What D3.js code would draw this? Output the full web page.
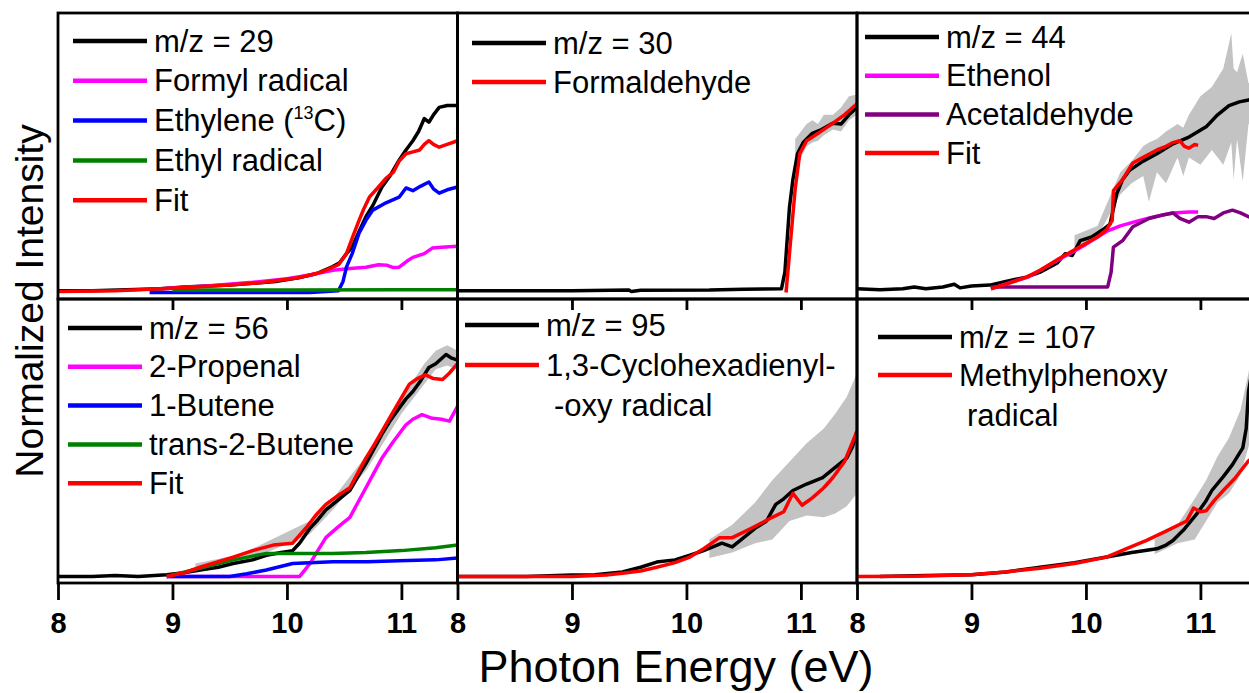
<!DOCTYPE html>
<html>
<head>
<meta charset="utf-8">
<script src="https://cdn.jsdelivr.net/npm/d3@7"></script>
<style>
  body { margin: 0; background: #fff; }
  svg { display: block; font-family: "Liberation Sans", Arial, sans-serif; }
</style>
</head>
<body>
<div id="chart"></div>
<script>
// ---- data (photon energy in eV, normalized intensity) ----
var energyTicks = [8, 9, 10, 11];

// m/z = 29
var mz29 = [[8.0,0.0],[8.3,0.0],[8.6,0.005],[8.9,0.01],[9.1,0.02],[9.3,0.025],[9.5,0.03],[9.7,0.04],[9.9,0.05],[10.1,0.07],[10.25,0.09],[10.4,0.13],[10.46,0.15],[10.52,0.2],[10.57,0.235],[10.63,0.32],[10.69,0.40],[10.75,0.46],[10.83,0.56],[10.9,0.62],[10.98,0.705],[11.04,0.76],[11.1,0.81],[11.15,0.86],[11.2,0.93],[11.24,0.91],[11.28,0.95],[11.33,0.99],[11.4,1.0],[11.49,1.0]];
var formyl29 = [[8.9,0.01],[9.3,0.025],[9.7,0.045],[10.0,0.065],[10.2,0.085],[10.4,0.11],[10.55,0.12],[10.69,0.127],[10.8,0.14],[10.87,0.138],[10.93,0.125],[10.98,0.127],[11.05,0.16],[11.1,0.18],[11.2,0.2],[11.27,0.23],[11.35,0.235],[11.49,0.24]];
var ethylene29 = [[8.8,-0.01],[9.5,-0.01],[10.2,-0.01],[10.45,0.0],[10.49,0.05],[10.52,0.127],[10.57,0.2],[10.63,0.31],[10.69,0.38],[10.75,0.435],[10.85,0.47],[10.98,0.505],[11.04,0.555],[11.1,0.54],[11.17,0.565],[11.24,0.587],[11.28,0.55],[11.33,0.527],[11.4,0.545],[11.49,0.56]];
var ethyl29 = [[9.0,0.003],[10.0,0.003],[11.0,0.005],[11.49,0.005]];
var fit29 = [[8.0,-0.005],[8.5,0.0],[8.9,0.01],[9.2,0.02],[9.5,0.03],[9.8,0.045],[10.1,0.07],[10.3,0.1],[10.45,0.14],[10.52,0.2],[10.58,0.3],[10.63,0.38],[10.67,0.44],[10.72,0.505],[10.8,0.56],[10.87,0.61],[10.93,0.64],[10.98,0.7],[11.04,0.74],[11.1,0.75],[11.16,0.76],[11.2,0.79],[11.24,0.81],[11.28,0.79],[11.33,0.775],[11.4,0.79],[11.49,0.81]];

// m/z = 30
var mz30 = [[8.0,0.0],[9.0,0.0],[9.5,0.003],[9.52,-0.005],[9.6,0.002],[10.2,0.003],[10.5,0.008],[10.83,0.01],[10.86,0.1],[10.9,0.45],[10.93,0.6],[10.97,0.74],[11.02,0.8],[11.1,0.85],[11.18,0.87],[11.28,0.905],[11.35,0.9],[11.42,0.95],[11.49,0.99]];
var formaldehyde30 = [[10.87,-0.01],[10.9,0.2],[10.95,0.55],[10.99,0.74],[11.05,0.81],[11.15,0.85],[11.28,0.905],[11.38,0.95],[11.49,1.01]];
var band30 = [[10.95,0.65,0.82],[11.0,0.72,0.86],[11.05,0.78,0.9],[11.1,0.8,0.92],[11.15,0.81,0.9],[11.2,0.84,0.95],[11.28,0.87,0.95],[11.35,0.86,0.99],[11.42,0.92,1.05],[11.49,0.95,1.06]];

// m/z = 44
var mz44 = [[8.0,0.01],[8.2,0.005],[8.4,0.01],[8.5,0.02],[8.6,0.01],[8.75,0.02],[8.85,0.035],[8.9,0.015],[9.0,0.025],[9.16,0.03],[9.3,0.05],[9.48,0.073],[9.6,0.1],[9.75,0.15],[9.82,0.2],[9.88,0.19],[9.95,0.27],[10.05,0.29],[10.15,0.33],[10.21,0.36],[10.27,0.525],[10.32,0.6],[10.38,0.65],[10.5,0.7],[10.62,0.74],[10.75,0.79],[10.9,0.83],[11.05,0.885],[11.15,0.95],[11.25,1.0],[11.34,1.02],[11.42,1.03],[11.49,1.04]];
var ethenol44 = [[9.17,0.01],[9.5,0.075],[9.8,0.18],[10.0,0.25],[10.18,0.32],[10.3,0.35],[10.47,0.38],[10.6,0.4],[10.76,0.42],[10.9,0.425],[10.98,0.425]];
var acetaldehyde44 = [[9.17,0.02],[10.19,0.02],[10.22,0.1],[10.24,0.235],[10.32,0.27],[10.41,0.345],[10.55,0.39],[10.68,0.41],[10.76,0.42],[10.82,0.39],[10.9,0.37],[10.98,0.4],[11.05,0.4],[11.12,0.39],[11.2,0.42],[11.28,0.435],[11.35,0.42],[11.42,0.4],[11.49,0.38]];
var fit44 = [[9.17,0.01],[9.3,0.035],[9.48,0.073],[9.6,0.11],[9.77,0.175],[9.97,0.245],[10.1,0.29],[10.18,0.33],[10.23,0.38],[10.24,0.54],[10.32,0.6],[10.41,0.69],[10.5,0.72],[10.62,0.76],[10.7,0.78],[10.76,0.8],[10.82,0.81],[10.86,0.78],[10.9,0.77],[10.95,0.79],[10.98,0.785]];
var band44 = [[9.9,0.23,0.3],[10.1,0.29,0.35],[10.3,0.52,0.64],[10.4,0.58,0.7],[10.5,0.62,0.78],[10.55,0.48,0.8],[10.62,0.64,0.82],[10.7,0.58,0.86],[10.8,0.72,0.9],[10.85,0.62,0.88],[10.9,0.72,0.95],[11.0,0.68,1.05],[11.1,0.76,1.1],[11.2,0.68,1.2],[11.27,0.8,1.39],[11.29,0.6,1.2],[11.32,0.82,1.18],[11.37,0.59,1.28],[11.42,0.9,1.12],[11.49,0.88,1.18]];

// m/z = 56
var mz56 = [[8.0,0.0],[8.3,0.0],[8.5,0.005],[8.7,0.0],[8.95,0.01],[9.1,0.02],[9.24,0.035],[9.4,0.05],[9.53,0.07],[9.7,0.09],[9.82,0.115],[9.95,0.13],[10.05,0.14],[10.11,0.18],[10.2,0.26],[10.26,0.3],[10.34,0.36],[10.4,0.39],[10.48,0.43],[10.55,0.465],[10.62,0.54],[10.69,0.61],[10.76,0.69],[10.83,0.77],[10.9,0.84],[10.98,0.91],[11.04,0.96],[11.1,1.0],[11.17,1.06],[11.24,1.13],[11.3,1.15],[11.39,1.2],[11.44,1.18],[11.49,1.17]];
var propenal56 = [[8.95,0.0],[10.11,0.0],[10.15,0.03],[10.2,0.07],[10.27,0.14],[10.34,0.21],[10.45,0.27],[10.55,0.32],[10.62,0.4],[10.69,0.48],[10.76,0.56],[10.83,0.64],[10.93,0.73],[11.04,0.82],[11.1,0.85],[11.18,0.875],[11.27,0.855],[11.35,0.85],[11.42,0.84],[11.49,0.92]];
var butene56 = [[8.95,0.0],[9.5,0.0],[9.65,0.015],[9.82,0.035],[10.05,0.07],[10.2,0.075],[10.4,0.08],[10.7,0.08],[10.98,0.085],[11.3,0.09],[11.49,0.1]];
var trans2butene56 = [[8.95,0.0],[9.24,0.045],[9.53,0.09],[9.82,0.125],[10.11,0.125],[10.4,0.125],[10.69,0.13],[11.0,0.14],[11.3,0.155],[11.49,0.17]];
var fit56 = [[8.95,0.0],[9.1,0.02],[9.24,0.05],[9.4,0.08],[9.53,0.105],[9.7,0.14],[9.88,0.17],[10.05,0.18],[10.17,0.265],[10.25,0.33],[10.34,0.39],[10.45,0.44],[10.55,0.48],[10.62,0.56],[10.69,0.64],[10.76,0.71],[10.83,0.785],[10.9,0.86],[10.98,0.945],[11.07,1.04],[11.14,1.07],[11.21,1.09],[11.28,1.07],[11.36,1.065],[11.42,1.1],[11.49,1.15]];
var band56 = [[9.2,0.02,0.07],[9.6,0.07,0.12],[10.2,0.23,0.3],[10.4,0.36,0.42],[10.7,0.58,0.66],[11.0,0.88,0.96],[11.2,1.04,1.15],[11.3,1.12,1.22],[11.4,1.14,1.25],[11.49,1.12,1.22]];

// m/z = 95
var mz95 = [[8.0,0.0],[8.6,0.0],[9.0,0.008],[9.2,0.01],[9.44,0.025],[9.6,0.05],[9.74,0.078],[9.9,0.09],[10.03,0.115],[10.15,0.14],[10.31,0.18],[10.4,0.16],[10.5,0.21],[10.61,0.265],[10.7,0.3],[10.78,0.39],[10.85,0.42],[10.93,0.465],[11.05,0.5],[11.19,0.535],[11.3,0.59],[11.4,0.64],[11.45,0.7],[11.49,0.785]];
var cyclohexadienyloxy95 = [[8.0,0.0],[9.0,0.0],[9.3,0.008],[9.44,0.018],[9.6,0.03],[9.74,0.05],[9.9,0.075],[10.03,0.105],[10.15,0.15],[10.29,0.21],[10.4,0.21],[10.5,0.24],[10.58,0.265],[10.75,0.32],[10.85,0.35],[10.93,0.45],[11.01,0.385],[11.1,0.425],[11.2,0.48],[11.28,0.535],[11.38,0.62],[11.49,0.785]];
var band95 = [[10.2,0.1,0.2],[10.4,0.13,0.28],[10.6,0.18,0.4],[10.75,0.2,0.52],[10.9,0.3,0.62],[11.05,0.33,0.72],[11.2,0.32,0.8],[11.3,0.34,0.88],[11.4,0.38,0.97],[11.49,0.45,1.1]];

// m/z = 107
var mz107 = [[8.2,0.0],[8.6,0.005],[9.0,0.01],[9.3,0.025],[9.6,0.05],[9.9,0.075],[10.18,0.105],[10.4,0.13],[10.62,0.15],[10.7,0.17],[10.76,0.195],[10.85,0.25],[10.97,0.34],[11.05,0.41],[11.1,0.465],[11.2,0.54],[11.28,0.605],[11.37,0.695],[11.4,0.8],[11.42,1.0],[11.49,1.25]];
var methylphenoxy107 = [[8.0,0.0],[8.5,0.002],[9.0,0.01],[9.3,0.025],[9.6,0.045],[9.9,0.07],[10.18,0.105],[10.35,0.15],[10.53,0.195],[10.7,0.245],[10.88,0.3],[10.94,0.37],[11.0,0.35],[11.05,0.355],[11.12,0.41],[11.2,0.465],[11.3,0.53],[11.42,0.625],[11.49,0.66]];
var band107 = [[10.6,0.12,0.2],[10.8,0.18,0.28],[10.95,0.2,0.42],[11.05,0.3,0.52],[11.15,0.4,0.65],[11.25,0.45,0.75],[11.35,0.55,0.9],[11.42,0.7,1.1],[11.49,0.9,1.4]];

// ---- layout ----
var width = 1249, height = 693;
var colLeft = [58, 457.5, 857];
var panelW = 399.5;
var rowTop = [13, 299];
var rowH = [286, 284];
var rowYDomain = [[-0.045, 1.5], [-0.035, 1.5]];
var lineW = 3.5;
var legendLen = 74;
var fontStack = '"Liberation Sans", Arial, sans-serif';

var BLACK = "#000000", MAGENTA = "#ff00ff", BLUE = "#0000ff", GREEN = "#008000", RED = "#ff0000", PURPLE = "#800080";

var panels = [
  {row: 0, col: 0, band: null,
   series: [[mz29, BLACK], [formyl29, MAGENTA], [ethylene29, BLUE], [ethyl29, GREEN], [fit29, RED]],
   legend: {x: 73, y: 41, dy: 39.8, items: [
     {c: BLACK, t: ["m/z = 29"]}, {c: MAGENTA, t: ["Formyl radical"]}, {c: BLUE, t: ["Ethylene (", "13", "C)"], sup: true},
     {c: GREEN, t: ["Ethyl radical"]}, {c: RED, t: ["Fit"]}]}},
  {row: 0, col: 1, band: band30,
   series: [[mz30, BLACK], [formaldehyde30, RED]],
   legend: {x: 472, y: 43, dy: 39, items: [{c: BLACK, t: ["m/z = 30"]}, {c: RED, t: ["Formaldehyde"]}]}},
  {row: 0, col: 2, band: band44,
   series: [[mz44, BLACK], [ethenol44, MAGENTA], [acetaldehyde44, PURPLE], [fit44, RED]],
   legend: {x: 865, y: 37, dy: 38.7, items: [
     {c: BLACK, t: ["m/z = 44"]}, {c: MAGENTA, t: ["Ethenol"]}, {c: PURPLE, t: ["Acetaldehyde"]}, {c: RED, t: ["Fit"]}]}},
  {row: 1, col: 0, band: band56,
   series: [[mz56, BLACK], [propenal56, MAGENTA], [butene56, BLUE], [trans2butene56, GREEN], [fit56, RED]],
   legend: {x: 68, y: 328, dy: 38.8, items: [
     {c: BLACK, t: ["m/z = 56"]}, {c: MAGENTA, t: ["2-Propenal"]}, {c: BLUE, t: ["1-Butene"]},
     {c: GREEN, t: ["trans-2-Butene"]}, {c: RED, t: ["Fit"]}]}},
  {row: 1, col: 1, band: band95,
   series: [[mz95, BLACK], [cyclohexadienyloxy95, RED]],
   legend: {x: 465, y: 325, dy: 40, items: [
     {c: BLACK, t: ["m/z = 95"]}, {c: RED, t: ["1,3-Cyclohexadienyl-"], wrap: "-oxy radical", wrapDx: 8}]}},
  {row: 1, col: 2, band: band107,
   series: [[mz107, BLACK], [methylphenoxy107, RED]],
   legend: {x: 878, y: 337, dy: 38, items: [
     {c: BLACK, t: ["m/z = 107"]}, {c: RED, t: ["Methylphenoxy"], wrap: "radical", wrapDx: 8}]}}
];

var svg = d3.select("#chart").append("svg")
  .attr("width", width).attr("height", height);
svg.append("rect").attr("width", width).attr("height", height).attr("fill", "#fff");

panels.forEach(function(p, i) {
  var x0 = colLeft[p.col], y0 = rowTop[p.row], h = rowH[p.row];
  var x = d3.scaleLinear().domain([8, 11.49]).range([x0, x0 + panelW]);
  var y = d3.scaleLinear().domain(rowYDomain[p.row]).range([y0 + h, y0]);

  svg.append("clipPath").attr("id", "clip" + i)
    .append("rect").attr("x", x0).attr("y", y0).attr("width", panelW).attr("height", h);
  var g = svg.append("g").attr("clip-path", "url(#clip" + i + ")");

  if (p.band) {
    var area = d3.area().x(function(d) { return x(d[0]); })
      .y0(function(d) { return y(d[1]); }).y1(function(d) { return y(d[2]); });
    g.append("path").datum(p.band).attr("d", area).attr("fill", "#c3c3c3");
  }

  var line = d3.line().x(function(d) { return x(d[0]); }).y(function(d) { return y(d[1]); });
  p.series.forEach(function(s) {
    g.append("path").datum(s[0]).attr("d", line)
      .attr("fill", "none").attr("stroke", s[1])
      .attr("stroke-width", lineW).attr("stroke-linejoin", "round");
  });

  // frame
  svg.append("rect").attr("x", x0).attr("y", y0).attr("width", panelW).attr("height", h)
    .attr("fill", "none").attr("stroke", "#000").attr("stroke-width", 2.8);

  // x axis
  var axis = svg.append("g").attr("transform", "translate(0," + (y0 + h) + ")");
  if (p.row === 1) {
    axis.call(d3.axisBottom(x).tickValues(energyTicks).tickSize(17).tickPadding(12).tickFormat(d3.format("d")));
  } else {
    axis.call(d3.axisBottom(x).tickValues(energyTicks.slice(1)).tickSize(11).tickFormat(""));
  }
  axis.select(".domain").remove();
  axis.selectAll("line").attr("stroke", "#000").attr("stroke-width", 2.8);
  axis.selectAll("text").attr("font-family", fontStack).attr("font-size", 29)
    .attr("font-weight", "bold").attr("fill", "#000");

  // legend
  var L = p.legend;
  L.items.forEach(function(it, k) {
    var ly = L.y + k * L.dy;
    svg.append("line").attr("x1", L.x).attr("x2", L.x + legendLen)
      .attr("y1", ly).attr("y2", ly).attr("stroke", it.c).attr("stroke-width", 4.5);
    var t = svg.append("text").attr("x", L.x + legendLen + 7).attr("y", ly + 10.5)
      .attr("font-family", fontStack).attr("font-size", 31).attr("fill", "#000");
    if (it.sup) {
      t.append("tspan").text(it.t[0]);
      t.append("tspan").attr("font-size", 18).attr("dy", -12).text(it.t[1]);
      t.append("tspan").attr("dy", 12).text(it.t[2]);
    } else {
      t.text(it.t[0]);
    }
    if (it.wrap) {
      svg.append("text").attr("x", L.x + legendLen + 7 + it.wrapDx).attr("y", ly + 10.5 + 40)
        .attr("font-family", fontStack).attr("font-size", 31).attr("fill", "#000").text(it.wrap);
    }
  });
});

// axis titles
svg.append("text").attr("x", 676).attr("y", 682).attr("text-anchor", "middle")
  .attr("font-family", fontStack).attr("font-size", 45).attr("fill", "#000")
  .text("Photon Energy (eV)");
svg.append("text").attr("transform", "translate(43,301) rotate(-90)").attr("text-anchor", "middle")
  .attr("font-family", fontStack).attr("font-size", 39).attr("fill", "#000")
  .text("Normalized Intensity");
</script>
</body>
</html>
